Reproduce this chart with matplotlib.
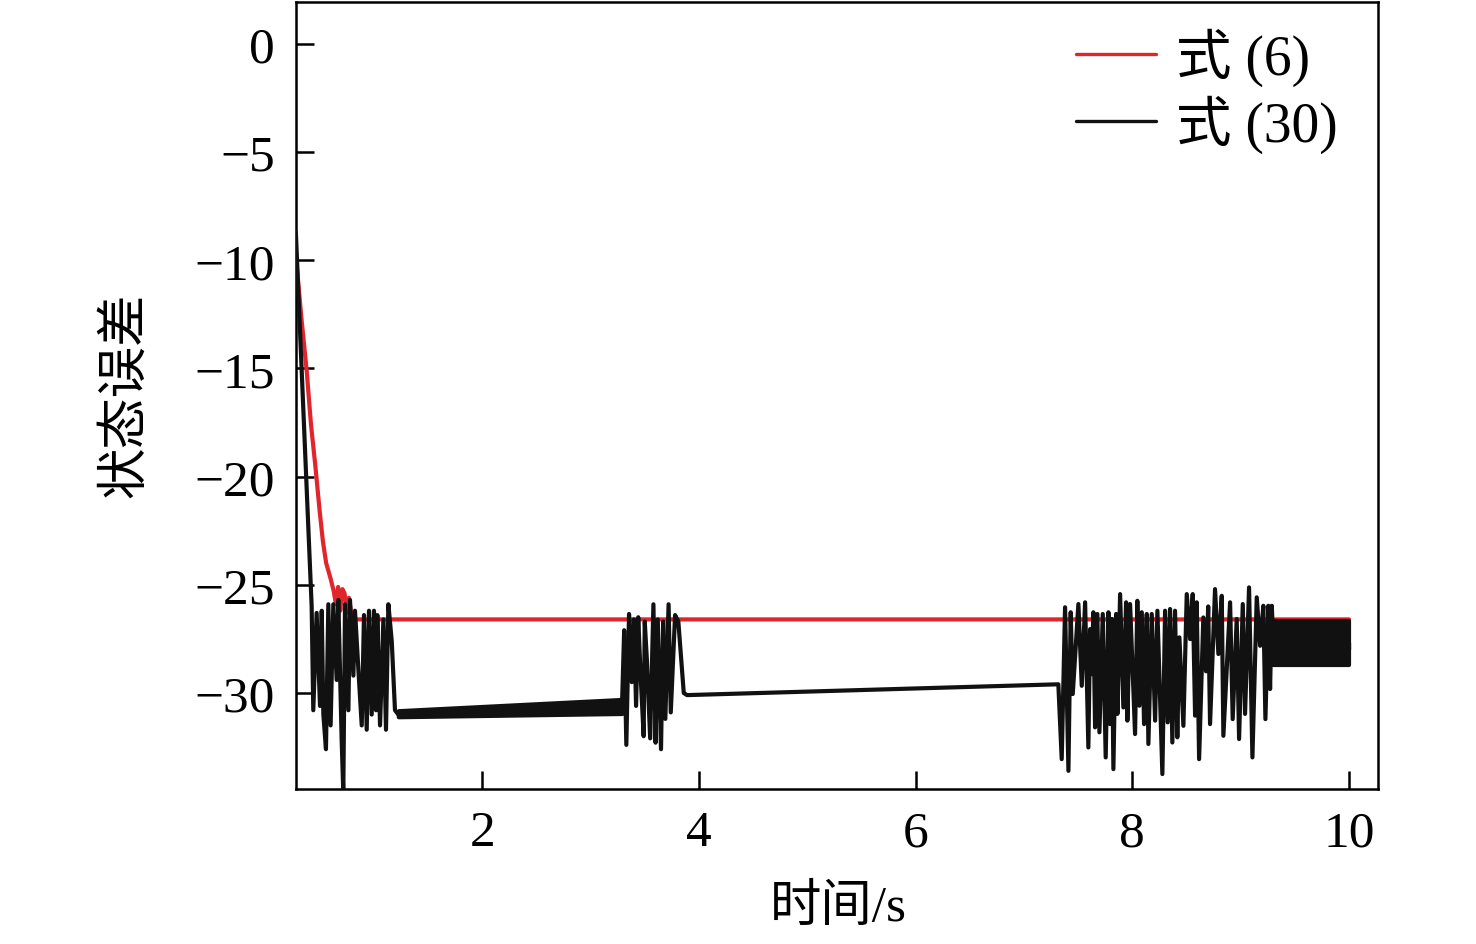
import matplotlib
matplotlib.use("Agg")
import matplotlib.pyplot as plt

plt.rcParams['font.family'] = ['Liberation Serif', 'Noto Sans CJK SC']
plt.rcParams['axes.unicode_minus'] = True

# ---- data ----
red_x = [0.28, 0.33, 0.38, 0.42, 0.46, 0.50, 0.53, 0.56, 0.60, 0.63, 0.65, 0.67,
         0.69, 0.71, 0.73, 0.75, 0.77, 0.80, 10.0]
red_y = [-9.8, -12.6, -15.1, -17.6, -19.5, -21.6, -23.0, -24.0, -24.7, -25.3, -25.9, -25.1,
         -26.2, -25.2, -25.4, -26.3, -25.6, -26.6, -26.6]

blk_x = [0.28, 0.426, 0.441, 0.472, 0.503, 0.519, 0.534, 0.558, 0.580, 0.601, 0.626, 0.657,
         0.672, 0.703, 0.718, 0.734, 0.765, 0.780, 0.811, 0.826, 0.857, 0.888, 0.909, 0.934,
         0.955, 0.980, 1.001, 1.020, 1.032, 1.057, 1.088, 1.112, 1.134, 1.165, 1.195, 1.226,
         3.29,
         3.31, 3.33, 3.355, 3.38, 3.40, 3.42, 3.44, 3.46, 3.49, 3.50, 3.52, 3.55, 3.58, 3.60,
         3.62, 3.65, 3.67, 3.69, 3.72, 3.74, 3.78, 3.81, 3.86, 3.89,
         7.317,
         7.348, 7.379, 7.410, 7.431, 7.450, 7.502, 7.533, 7.564, 7.594, 7.610, 7.625, 7.640,
         7.656, 7.677, 7.696, 7.727, 7.754, 7.779, 7.794, 7.810, 7.825, 7.850, 7.862, 7.887,
         7.917, 7.942, 7.954, 7.979, 8.025, 8.046, 8.065, 8.087, 8.108, 8.133, 8.148, 8.179,
         8.210, 8.231, 8.277, 8.302, 8.326, 8.348, 8.369, 8.394, 8.415, 8.434, 8.471, 8.502,
         8.533, 8.557, 8.579, 8.594, 8.616, 8.655, 8.68, 8.70, 8.717, 8.763, 8.794, 8.825,
         8.840, 8.902, 8.926, 8.963, 8.985, 9.019, 9.040, 9.077, 9.108, 9.148, 9.179, 9.209,
         9.228, 9.255, 9.271, 9.287, 9.301, 10.0, 10.0]
blk_y = [-8.7, -26.0, -30.8, -26.3, -30.6, -26.2, -31.0, -32.6, -25.9, -31.5, -25.9, -29.4,
         -25.7, -32.2, -34.6, -25.9, -30.8, -25.7, -29.2, -26.2, -28.9, -31.5, -26.4, -31.7,
         -26.2, -31.0, -26.2, -30.8, -26.4, -31.5, -26.6, -31.7, -25.9, -27.6, -30.8, -31.0,
         -30.6,
         -27.1, -32.4, -26.35, -29.5, -26.6, -30.6, -26.5, -29.0, -32.0, -26.7, -28.5, -32.1,
         -25.9, -32.3, -26.6, -32.6, -26.7, -31.2, -25.9, -30.9, -26.4, -26.7, -30.0, -30.1,
         -29.6,
         -33.06, -26.04, -33.60, -26.27, -30.05, -25.89, -29.67, -25.81, -32.52, -27.05, -29.13,
         -26.27, -31.59, -26.35, -31.82, -26.35, -32.98, -26.27, -31.44, -26.58, -33.52, -26.35,
         -30.97, -25.43, -30.67, -25.81, -31.28, -25.89, -31.90, -25.74, -30.59, -26.27, -31.44,
         -26.35, -32.36, -26.35, -31.28, -26.20, -33.75, -26.20, -31.36, -26.12, -32.29, -26.20,
         -32.05, -27.43, -31.52, -25.43, -27.51, -25.43, -31.05, -25.81, -33.06, -26.51, -29.0,
         -26.0, -31.44, -25.20, -28.20, -25.51, -31.98, -25.81, -31.21, -26.58, -32.13, -25.89,
         -30.97, -25.12, -32.98, -25.58, -27.82, -25.97, -31.21, -25.97, -29.82, -25.97, -27.7,
         -27.7, -28.0]

# dense high-frequency oscillation bands (envelope)
band1_x = [1.226, 3.29]
band1_hi = [-30.82, -30.30]
band1_lo = [-31.10, -30.95]
band2_x = [9.301, 10.0]
band2_hi = [-26.68, -26.68]
band2_lo = [-28.72, -28.72]

xticks = [2, 4, 6, 8, 10]
yticks = [0, -5, -10, -15, -20, -25, -30]

# ---- figure ----
fig = plt.figure(figsize=(14.76, 9.45), dpi=100)
ax = fig.add_axes([296/1476, 1 - 790/945, (1378 - 296)/1476, (790 - 3)/945])

red = '#e0262c'
black = '#111111'
lw = 3.0
ax.plot(red_x, red_y, color=red, lw=lw, label='式 (6)', zorder=2,
        solid_joinstyle='round', solid_capstyle='round')
ax.plot(blk_x, blk_y, color=black, lw=lw, label='式 (30)', zorder=3,
        solid_joinstyle='round', solid_capstyle='round')
ax.fill_between(band1_x, band1_lo, band1_hi, color=black, lw=lw, edgecolor=black, zorder=3)
ax.fill_between(band2_x, band2_lo, band2_hi, color=black, lw=lw, edgecolor=black, zorder=3)

ax.set_xlim(0.2815, 10.267)
ax.set_ylim(-34.44, 1.94)
ax.set_xticks(xticks)
ax.set_yticks(yticks)
ax.tick_params(direction='in', length=13, width=1.8, labelsize=37, pad=15)
for s in ax.spines.values():
    s.set_linewidth(1.8)

ax.set_xlabel('时间/s', fontsize=37)
ax.set_ylabel('状态误差', fontsize=37)
ax.xaxis.set_label_coords(0.501, -0.121)
ax.yaxis.set_label_coords(-0.135, 0.502)

leg = ax.legend(loc='upper right', bbox_to_anchor=(0.9834, 0.996), frameon=False,
                fontsize=40, handlelength=1.44, handletextpad=0.36, labelspacing=0.15,
                borderaxespad=0)
for h in leg.get_lines():
    h.set_linewidth(2.4)

fig.savefig('out.png', dpi=100)
